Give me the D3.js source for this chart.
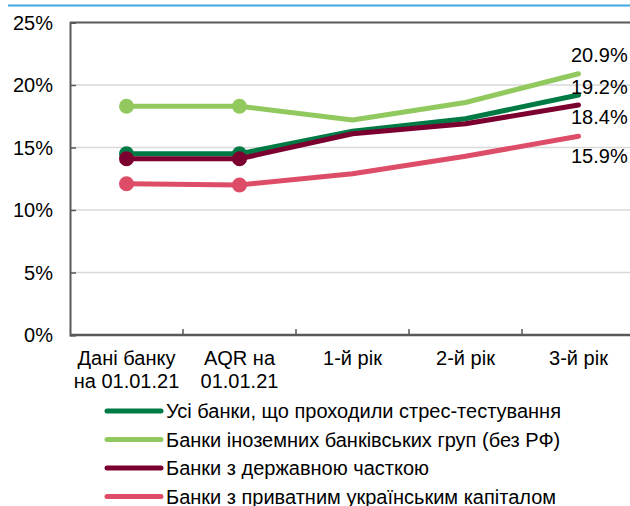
<!DOCTYPE html>
<html>
<head>
<meta charset="utf-8">
<script src="https://cdn.jsdelivr.net/npm/d3@7/dist/d3.min.js"></script>
<style>
  body { margin: 0; background: #fff; }
  svg { display: block; font-family: "Liberation Sans", Arial, sans-serif; }
</style>
</head>
<body>
<div class="container"></div>
<script>
// categories along the x axis (two-line labels)
var categories = ["Дані банку|на 01.01.21", "AQR на|01.01.21", "1-й рік", "2-й рік", "3-й рік"];
var yTicks = [0, 5, 10, 15, 20, 25];

// series values, %
var allBanks = [14.5, 14.5, 16.3, 17.3, 19.2];
var foreignBanks = [18.3, 18.3, 17.2, 18.6, 20.9];
var stateBanks = [14.1, 14.1, 16.1, 16.9, 18.4];
var privateBanks = [12.1, 12.0, 12.9, 14.3, 15.9];

var seriesNames = [
  "Усі банки, що проходили стрес-тестування",
  "Банки іноземних банківських груп (без РФ)",
  "Банки з державною часткою",
  "Банки з приватним українським капіталом"
];
var seriesColors = ["#007a45", "#92c95f", "#7b0030", "#de4d67"];
var endLabels = ["19.2%", "20.9%", "18.4%", "15.9%"];

var chart = {
  width: 630,
  height: 506,
  left: 70,
  right: 635,
  top: 22.5,
  bottom: 335
};
var fontSize = 20;

var svg = d3.select('.container').append('svg')
  .attr('width', chart.width)
  .attr('height', chart.height);

// blue rule under the (cut-off) title
svg.append('line')
  .attr('x1', 8).attr('x2', 630)
  .attr('y1', 5.5).attr('y2', 5.5)
  .attr('stroke', '#41a7e1').attr('stroke-width', 2);

var x = d3.scaleBand().domain(categories).range([chart.left, chart.right]);
var y = d3.scaleLinear().domain([0, 25]).range([chart.bottom, chart.top]);

// grid lines
svg.append('g').selectAll('line')
  .data(yTicks.filter(function(d){ return d > 0 && d < 25; }))
  .enter().append('line')
  .attr('x1', chart.left).attr('x2', chart.right)
  .attr('y1', function(d){ return y(d); })
  .attr('y2', function(d){ return y(d); })
  .attr('stroke', '#d9d9d9').attr('stroke-width', 1.3);

// frame top
svg.append('line')
  .attr('x1', chart.left).attr('x2', chart.right)
  .attr('y1', chart.top).attr('y2', chart.top)
  .attr('stroke', '#595959').attr('stroke-width', 2);

// y axis
var yAxis = svg.append('g')
  .attr('transform', 'translate(' + chart.left + ',0)')
  .call(d3.axisRight(y).tickValues(yTicks).tickSize(6).tickFormat(''));
yAxis.select('.domain').attr('stroke', '#595959').attr('stroke-width', 2);
yAxis.selectAll('.tick line').attr('stroke', '#595959').attr('stroke-width', 1.5);

svg.append('g').selectAll('text')
  .data(yTicks)
  .enter().append('text')
  .attr('x', 53)
  .attr('y', function(d){ return y(d); })
  .attr('dy', '0.35em')
  .attr('text-anchor', 'end')
  .attr('font-size', fontSize)
  .attr('fill', '#000')
  .text(function(d){ return d + '%'; });

// x axis with ticks between categories, pointing up
var xAxis = svg.append('g')
  .attr('transform', 'translate(0,' + chart.bottom + ')');
xAxis.append('line')
  .attr('x1', chart.left).attr('x2', chart.right)
  .attr('stroke', '#595959').attr('stroke-width', 2.5);
xAxis.selectAll('.tk')
  .data(categories.slice(1))
  .enter().append('line')
  .attr('class', 'tk')
  .attr('x1', function(d){ return x(d); })
  .attr('x2', function(d){ return x(d); })
  .attr('y1', 0).attr('y2', -6)
  .attr('stroke', '#595959').attr('stroke-width', 1.5);

var xl = svg.append('g').selectAll('text')
  .data(categories)
  .enter().append('text')
  .attr('x', function(d){ return x(d) + x.bandwidth() / 2; })
  .attr('y', 365)
  .attr('text-anchor', 'middle')
  .attr('font-size', fontSize)
  .attr('fill', '#000');
xl.selectAll('tspan')
  .data(function(d){ return d.split('|'); })
  .enter().append('tspan')
  .attr('x', function(){ return d3.select(this.parentNode).attr('x'); })
  .attr('dy', function(d, i){ return i === 0 ? 0 : 23; })
  .text(function(d){ return d; });

// lines
var series = [allBanks, foreignBanks, stateBanks, privateBanks];
var cx = function(d, i){ return x(categories[i]) + x.bandwidth() / 2; };
var line = d3.line()
  .x(cx)
  .y(function(d){ return y(d); });

// draw order: light green, pink, dark green, maroon on top
var order = [1, 3, 0, 2];
order.forEach(function(k){
  var g = svg.append('g');
  g.append('path')
    .datum(series[k])
    .attr('d', line)
    .attr('fill', 'none')
    .attr('stroke', seriesColors[k])
    .attr('stroke-width', 5)
    .attr('stroke-linecap', 'round')
    .attr('stroke-linejoin', 'round');
  g.selectAll('circle')
    .data(series[k].slice(0, 2))
    .enter().append('circle')
    .attr('cx', cx)
    .attr('cy', function(d){ return y(d); })
    .attr('r', 7.5)
    .attr('fill', seriesColors[k]);
});

// end labels
var labelY = [87, 55, 117, 156];
svg.append('g').selectAll('text')
  .data(endLabels)
  .enter().append('text')
  .attr('x', 571)
  .attr('y', function(d, i){ return labelY[i]; })
  .attr('dy', '0.35em')
  .attr('font-size', fontSize)
  .attr('fill', '#000')
  .text(function(d){ return d; });

// legend
var legend = svg.append('g').selectAll('g')
  .data(seriesNames)
  .enter().append('g')
  .attr('transform', function(d, i){ return 'translate(0,' + (411 + i * 28.5) + ')'; });
legend.append('line')
  .attr('x1', 107).attr('x2', 161)
  .attr('stroke', function(d, i){ return seriesColors[i]; })
  .attr('stroke-width', 5)
  .attr('stroke-linecap', 'round');
legend.append('text')
  .attr('x', 166)
  .attr('dy', '0.35em')
  .attr('font-size', fontSize)
  .attr('fill', '#000')
  .text(function(d){ return d; });
</script>
</body>
</html>
